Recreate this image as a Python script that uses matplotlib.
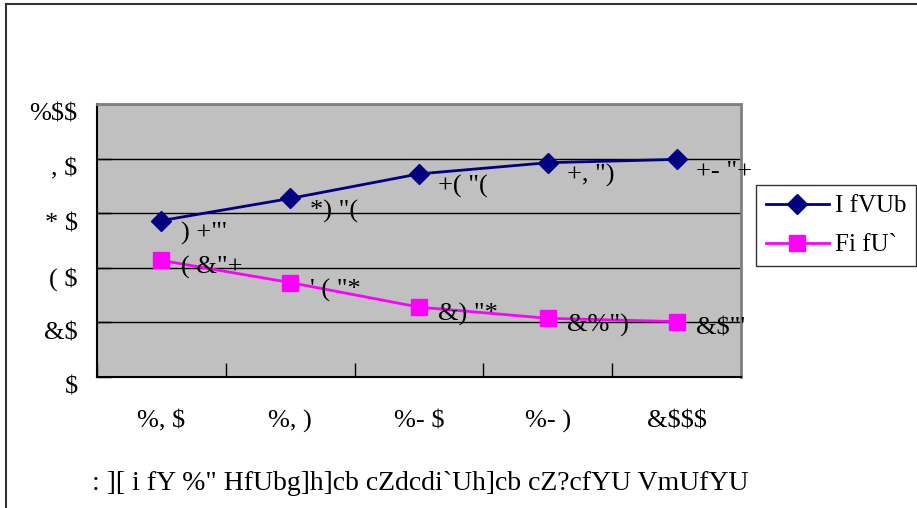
import numpy as np
import matplotlib.pyplot as plt
from matplotlib.transforms import ScaledTranslation

# values (labels are shown in a shifted glyph encoding)
years = ['%, $', '%, )', '%- $', '%- )', '&$$$']
urban = [57.3, 65.4, 74.4, 78.5, 79.7]
rural = [42.7, 34.6, 25.6, 21.5, 20.3]
urban_txt = [') +"\'', '*) "(', '+( "(', '+, ")', '+- "+']
rural_txt = ['( &"+', '\' ( "*', '&) "*', '&%")', '&$"\'']
yticks = [0, 20, 40, 60, 80, 100]
ytick_txt = ['$', '&$', '( $', '* $', ', $', '%$$']
names = ['I fVUb', 'Fi fU`']
title = ': ][ i fY %" HfUbg]h]cb cZdcdi`Uh]cb cZ?cfYU VmUfYU'

plt.rcParams['font.family'] = ['Liberation Serif', 'DejaVu Serif']
plt.rcParams['text.parse_math'] = False
fs = 19

fig = plt.figure(figsize=(9.17, 5.08), dpi=100)
ax = fig.add_axes([97/917, 1-377/508, 644/917, 273/508])
ax.set_facecolor('#c0c0c0')

x = np.arange(len(years))
ax.plot(x, urban, color='#000080', lw=2, marker='D', ms=10, label=names[0])
ax.plot(x, rural, color='#ff00ff', lw=2, marker='s', ms=11, label=names[1])

for i in range(len(x)):
    ax.text(x[i]+0.15, urban[i]-0.5, urban_txt[i], fontsize=fs, va='top', ha='left')
    ax.text(x[i]+0.15, rural[i]+1.5, rural_txt[i], fontsize=fs, va='top', ha='left')

ax.set_xlim(-0.5, 4.5)
ax.set_ylim(0, 100)
ax.set_yticks(yticks)
ax.set_yticklabels(ytick_txt, fontsize=fs)
ax.set_xticks(np.arange(-0.5, 4.6, 1), minor=False)
ax.set_xticklabels([])
ax.set_xticks(x, minor=True)
ax.set_xticklabels(years, minor=True, fontsize=fs)
ax.tick_params(axis='x', which='major', direction='in', length=10, width=1)
ax.tick_params(axis='x', which='minor', length=0, pad=24)
ax.tick_params(axis='y', direction='in', length=10, width=1, pad=14)
off = ScaledTranslation(0, -6/72, fig.dpi_scale_trans)
for lab in ax.get_yticklabels():
    lab.set_transform(lab.get_transform() + off)
ax.grid(axis='y', color='black', lw=1)
ax.set_axisbelow(True)
for s in ['top', 'right']:
    ax.spines[s].set_color('#808080')
    ax.spines[s].set_linewidth(2)
for s in ['left', 'bottom']:
    ax.spines[s].set_color('black')
    ax.spines[s].set_linewidth(1.5)

leg = ax.legend(loc='upper left', bbox_to_anchor=(756/917, 1-185/508), bbox_transform=fig.transFigure,
                fontsize=18, frameon=True, fancybox=False, edgecolor='black',
                handlelength=2.5, borderpad=0.4, labelspacing=0.65, handletextpad=0.25, borderaxespad=0)
leg.get_frame().set_linewidth(1)

fig.text(420/917, 1-484/508, title, fontsize=20, ha='center', va='center')

# outer chart frame (top and left edges visible)
fig.add_artist(plt.Line2D([6/917, 6/917], [0, 1-4/508], color='#333333', lw=1.5, transform=fig.transFigure))
fig.add_artist(plt.Line2D([6/917, 1], [1-4/508, 1-4/508], color='#333333', lw=1.5, transform=fig.transFigure))

fig.savefig('out.png', dpi=100)
